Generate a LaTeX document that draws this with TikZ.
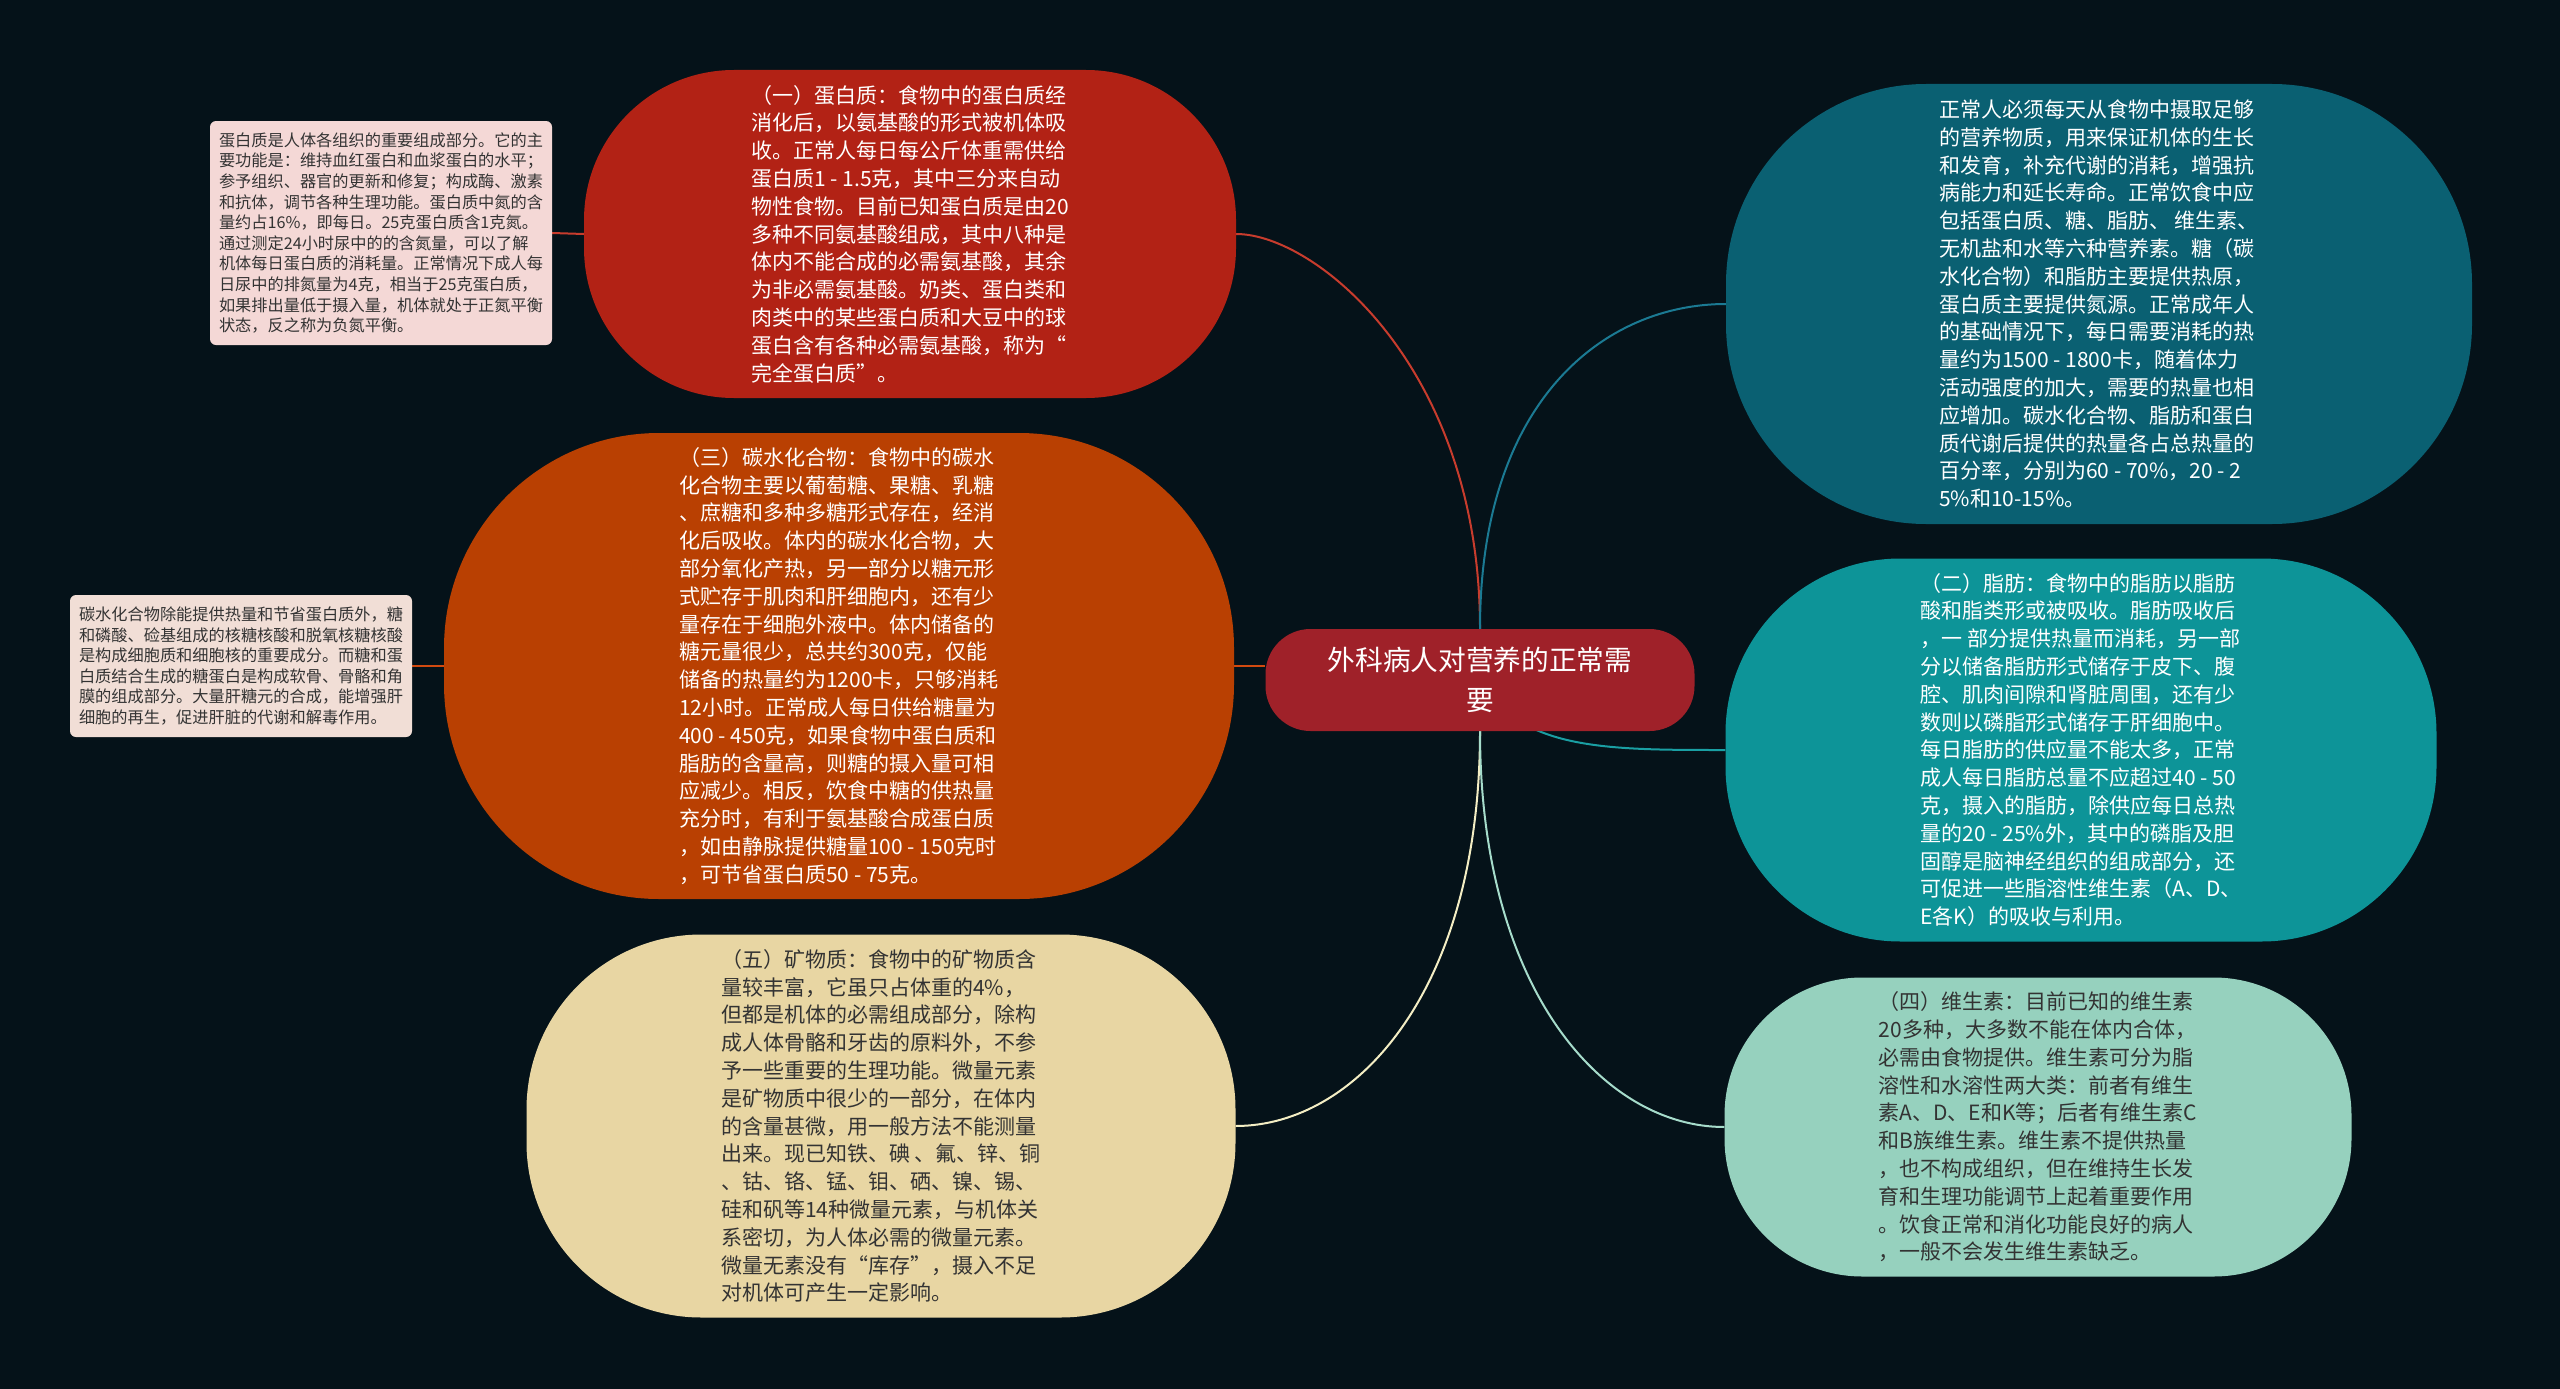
\documentclass[tikz,border=0pt]{standalone}
\usepackage{fontspec}
\setmainfont{Noto Sans CJK SC}
\usetikzlibrary{backgrounds}

\definecolor{bgdark}{HTML}{051219}
\definecolor{rootred}{HTML}{9F2129}
\definecolor{proteinred}{HTML}{B22215}
\definecolor{carborange}{HTML}{B94002}
\definecolor{mineralsand}{HTML}{E8D6A3}
\definecolor{introteal}{HTML}{0A6072}
\definecolor{fatteal}{HTML}{0D9498}
\definecolor{vitaminmint}{HTML}{96D1BE}
\definecolor{notepink}{HTML}{F4D8D6}
\definecolor{notesand}{HTML}{F1DED6}
\definecolor{darktext}{HTML}{333333}

\begin{document}
\begin{tikzpicture}[x=1pt,y=-1pt,
			bubble/.style={shape=rectangle, align=left, inner sep=0pt, font=\fontsize{21}{27.8}\selectfont},
			note/.style={shape=rectangle, rounded corners=6pt, align=left, inner sep=0pt, text=darktext,
				minimum width=342pt, font=\fontsize{16.2}{20.6}\selectfont},
			link/.style={line width=2pt}]

			\useasboundingbox (0,0) rectangle (2560,1389);

			% centre
			\node[shape=rectangle, align=center, fill=rootred, text=white, rounded corners=45pt,
				minimum width=429pt, minimum height=102pt, font=\fontsize{27.7}{40}\selectfont]
				(root) at (1480,680) {外科病人对营养的正常需\\要};

			% left side
			\node[bubble, fill=proteinred, text=white, minimum width=652pt, minimum height=328pt, rounded corners=150pt]
				(protein) at (910,234) {（一）蛋白质：食物中的蛋白质经\\
消化后，以氨基酸的形式被机体吸\\
收。正常人每日每公斤体重需供给\\
蛋白质1 - 1.5克，其中三分来自动\\
物性食物。目前已知蛋白质是由20\\
多种不同氨基酸组成，其中八种是\\
体内不能合成的必需氨基酸，其余\\
为非必需氨基酸。奶类、蛋白类和\\
肉类中的某些蛋白质和大豆中的球\\
蛋白含有各种必需氨基酸，称为“\\
完全蛋白质”。};

			\node[note, fill=notepink, minimum height=224pt] (proteinnote) at (381,233) {蛋白质是人体各组织的重要组成部分。它的主\\
要功能是：维持血红蛋白和血浆蛋白的水平；\\
参予组织、器官的更新和修复；构成酶、激素\\
和抗体，调节各种生理功能。蛋白质中氮的含\\
量约占16\%，即每日。25克蛋白质含1克氮。\\
通过测定24小时尿中的的含氮量，可以了解\\
机体每日蛋白质的消耗量。正常情况下成人每\\
日尿中的排氮量为4克，相当于25克蛋白质，\\
如果排出量低于摄入量，机体就处于正氮平衡\\
状态，反之称为负氮平衡。};

			\node[bubble, fill=carborange, text=white, minimum width=790pt, minimum height=466pt, rounded corners=215pt]
				(carb) at (839,666) {（三）碳水化合物：食物中的碳水\\
化合物主要以葡萄糖、果糖、乳糖\\
、庶糖和多种多糖形式存在，经消\\
化后吸收。体内的碳水化合物，大\\
部分氧化产热，另一部分以糖元形\\
式贮存于肌肉和肝细胞内，还有少\\
量存在于细胞外液中。体内储备的\\
糖元量很少，总共约300克，仅能\\
储备的热量约为1200卡，只够消耗\\
12小时。正常成人每日供给糖量为\\
400 - 450克，如果食物中蛋白质和\\
脂肪的含量高，则糖的摄入量可相\\
应减少。相反，饮食中糖的供热量\\
充分时，有利于氨基酸合成蛋白质\\
，如由静脉提供糖量100 - 150克时\\
，可节省蛋白质50 - 75克。};

			\node[note, fill=notesand, minimum height=142pt] (carbnote) at (241,666) {碳水化合物除能提供热量和节省蛋白质外，糖\\
和磷酸、硷基组成的核糖核酸和脱氧核糖核酸\\
是构成细胞质和细胞核的重要成分。而糖和蛋\\
白质结合生成的糖蛋白是构成软骨、骨骼和角\\
膜的组成部分。大量肝糖元的合成，能增强肝\\
细胞的再生，促进肝脏的代谢和解毒作用。};

			\node[bubble, fill=mineralsand, text=darktext, minimum width=709pt, minimum height=383pt, rounded corners=175pt]
				(mineral) at (881,1126) {（五）矿物质：食物中的矿物质含\\
量较丰富，它虽只占体重的4\%，\\
但都是机体的必需组成部分，除构\\
成人体骨骼和牙齿的原料外，不参\\
予一些重要的生理功能。微量元素\\
是矿物质中很少的一部分，在体内\\
的含量甚微，用一般方法不能测量\\
出来。现已知铁、碘 、氟、锌、铜\\
、钴、铬、锰、钼、硒、镍、锡、\\
硅和矾等14种微量元素，与机体关\\
系密切，为人体必需的微量元素。\\
微量无素没有“库存”，摄入不足\\
对机体可产生一定影响。};

			% right side
			\node[bubble, fill=introteal, text=white, minimum width=746pt, minimum height=440pt, rounded corners=200pt]
				(intro) at (2099,304) {正常人必须每天从食物中摄取足够\\
的营养物质，用来保证机体的生长\\
和发育，补充代谢的消耗，增强抗\\
病能力和延长寿命。正常饮食中应\\
包括蛋白质、糖、脂肪、 维生素、\\
无机盐和水等六种营养素。糖（碳\\
水化合物）和脂肪主要提供热原，\\
蛋白质主要提供氮源。正常成年人\\
的基础情况下，每日需要消耗的热\\
量约为1500 - 1800卡，随着体力\\
活动强度的加大，需要的热量也相\\
应增加。碳水化合物、脂肪和蛋白\\
质代谢后提供的热量各占总热量的\\
百分率，分别为60 - 70\%，20 - 2\\
5\%和10-15\%。};

			\node[bubble, fill=fatteal, text=white, minimum width=711pt, minimum height=383pt, rounded corners=175pt]
				(fat) at (2081,750) {（二）脂肪：食物中的脂肪以脂肪\\
酸和脂类形或被吸收。脂肪吸收后\\
，一 部分提供热量而消耗，另一部\\
分以储备脂肪形式储存于皮下、腹\\
腔、肌肉间隙和肾脏周围，还有少\\
数则以磷脂形式储存于肝细胞中。\\
每日脂肪的供应量不能太多，正常\\
成人每日脂肪总量不应超过40 - 50\\
克，摄入的脂肪，除供应每日总热\\
量的20 - 25\%外，其中的磷脂及胆\\
固醇是脑神经组织的组成部分，还\\
可促进一些脂溶性维生素（A、D、\\
E各K）的吸收与利用。};

			\node[bubble, fill=vitaminmint, text=darktext, minimum width=627pt, minimum height=299pt, rounded corners=138pt]
				(vitamin) at (2038,1127) {（四）维生素：目前已知的维生素\\
20多种，大多数不能在体内合体，\\
必需由食物提供。维生素可分为脂\\
溶性和水溶性两大类：前者有维生\\
素A、D、E和K等；后者有维生素C\\
和B族维生素。维生素不提供热量\\
，也不构成组织，但在维持生长发\\
育和生理功能调节上起着重要作用\\
。饮食正常和消化功能良好的病人\\
，一般不会发生维生素缺乏。};

			\begin{scope}[on background layer]
				\fill[bgdark] (0,0) rectangle (2560,1389);
				% connectors
				\draw[link, draw={rgb,255:red,200;green,60;blue,45}] (protein.east) .. controls +(80,0) and +(0,-260) .. (root.north);
				\draw[link, draw={rgb,255:red,27;green,122;blue,147}] (root.north) .. controls +(0,-230) and +(-120,0) .. (intro.west);
				\draw[link, draw={rgb,255:red,210;green,74;blue,16}] (carb.east) -- (carb.east -| root.west);
				\draw[link, draw={rgb,255:red,26;green,159;blue,163}] (root.center) .. controls +(40,70) and +(-120,0) .. (fat.west);
				\draw[link, draw={rgb,255:red,244;green,238;blue,196}] (root.south) .. controls +(0,260) and +(120,0) .. (mineral.east);
				\draw[link, draw={rgb,255:red,166;green,220;blue,203}] (root.south) .. controls +(0,260) and +(-120,0) .. (vitamin.west);
				\draw[link, draw={rgb,255:red,200;green,60;blue,45}] (protein.west) -- (proteinnote.east);
				\draw[link, draw={rgb,255:red,210;green,74;blue,16}] (carb.west) -- (carbnote.east);
			\end{scope}
\end{tikzpicture}
\end{document}
